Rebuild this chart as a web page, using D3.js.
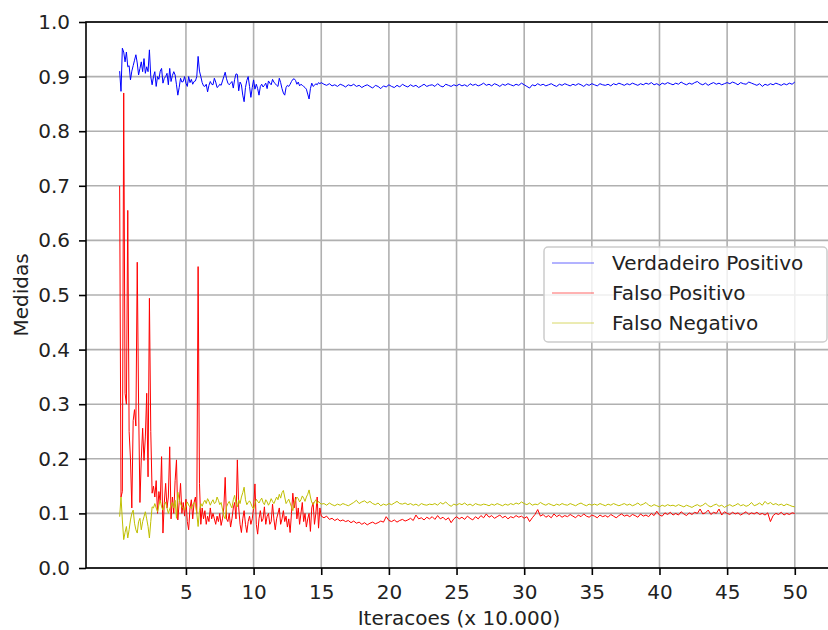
<!DOCTYPE html>
<head>
<meta charset="utf-8">
<title>Medidas por iteracao</title>
<style>
  body { margin: 0; background: #fff; }
  text { font-family: "DejaVu Sans", sans-serif; fill: #222; }
</style>
</head>
<body>
<script src="https://d3js.org/d3.v7.min.js"></script>
<script>
// iteracoes (x 10.000): a cada 0.1 ate 15, depois a cada 0.2 ate 50
const iterEarly = d3.range(1, 151).map(i => i / 10);
const iterLate = d3.range(76, 251).map(i => i / 5);
const iteracoes = iterEarly.concat(iterLate);

const xTicks = [5, 10, 15, 20, 25, 30, 35, 40, 45, 50];
const yTicks = [0, 0.1, 0.2, 0.3, 0.4, 0.5, 0.6, 0.7, 0.8, 0.9, 1.0];

const seriesNames = ["Verdadeiro Positivo", "Falso Positivo", "Falso Negativo"];
const seriesColors = ["#0000ff", "#ff0000", "#bfbf00"];

const verdadeiroPositivo = [
  0.91, 0.873, 0.952, 0.945, 0.927, 0.945, 0.918, 0.92, 0.894, 0.91,
  0.92, 0.93, 0.94, 0.925, 0.903, 0.915, 0.927, 0.909, 0.933, 0.906,
  0.918, 0.909, 0.949, 0.9, 0.885, 0.9, 0.909, 0.882, 0.9, 0.895,
  0.91, 0.915, 0.888, 0.897, 0.9, 0.906, 0.885, 0.915, 0.891, 0.902,
  0.909, 0.903, 0.885, 0.866, 0.88, 0.897, 0.89, 0.891, 0.9, 0.888,
  0.882, 0.9, 0.889, 0.895, 0.886, 0.891, 0.892, 0.9, 0.937, 0.91,
  0.9, 0.889, 0.883, 0.882, 0.886, 0.872, 0.884, 0.891, 0.886, 0.885,
  0.897, 0.89, 0.88, 0.882, 0.886, 0.884, 0.892, 0.9, 0.908, 0.896,
  0.888, 0.885, 0.888, 0.891, 0.879, 0.895, 0.905, 0.904, 0.874, 0.89,
  0.885, 0.866, 0.854, 0.88, 0.893, 0.9, 0.882, 0.862, 0.88, 0.894,
  0.877, 0.886, 0.878, 0.866, 0.882, 0.886, 0.881, 0.884, 0.888, 0.878,
  0.892, 0.888, 0.885, 0.895, 0.89, 0.887, 0.884, 0.882, 0.897, 0.889,
  0.878, 0.87, 0.866, 0.88, 0.884, 0.882, 0.886, 0.891, 0.895, 0.896,
  0.893, 0.886, 0.89, 0.883, 0.886, 0.884, 0.882, 0.88, 0.877, 0.868,
  0.859, 0.878, 0.888, 0.882, 0.884, 0.887, 0.885, 0.889, 0.887, 0.889,
  // 15.2 .. 50
  0.886, 0.884, 0.887, 0.883, 0.885, 0.882, 0.886, 0.884, 0.881, 0.885,
  0.883, 0.886, 0.882, 0.884, 0.88, 0.883, 0.885, 0.882, 0.879, 0.884,
  0.882, 0.878, 0.883, 0.881, 0.885, 0.882, 0.88, 0.884, 0.881, 0.886,
  0.883, 0.881, 0.885, 0.882, 0.884, 0.88, 0.883, 0.886, 0.882, 0.884,
  0.885, 0.882, 0.887, 0.883, 0.881, 0.886, 0.884, 0.882, 0.885, 0.883,
  0.886, 0.883, 0.885, 0.882, 0.887, 0.884, 0.886, 0.883, 0.885, 0.888,
  0.884, 0.886, 0.883, 0.887, 0.885, 0.882, 0.886, 0.884, 0.887, 0.885,
  0.883, 0.886, 0.884, 0.888, 0.885, 0.882, 0.879, 0.885, 0.883, 0.887,
  0.884, 0.886, 0.883, 0.885, 0.887, 0.884, 0.882, 0.886, 0.884, 0.887,
  0.885, 0.883, 0.886, 0.884, 0.887, 0.885, 0.882, 0.886, 0.884, 0.887,
  0.885, 0.883, 0.887, 0.885, 0.884, 0.886, 0.883, 0.887, 0.885, 0.888,
  0.886, 0.884, 0.887, 0.885, 0.888, 0.886, 0.884, 0.887, 0.885, 0.888,
  0.886, 0.889, 0.885, 0.887, 0.884, 0.888, 0.886, 0.889, 0.887, 0.885,
  0.888, 0.886, 0.89, 0.887, 0.885, 0.888, 0.886, 0.889, 0.891, 0.887,
  0.885, 0.888, 0.884, 0.887, 0.889, 0.886, 0.888, 0.885, 0.887, 0.889,
  0.887, 0.89, 0.888, 0.885, 0.889, 0.887, 0.886, 0.89, 0.888, 0.886,
  0.884, 0.887, 0.882, 0.886, 0.884, 0.887, 0.885, 0.888, 0.886, 0.884,
  0.887, 0.885, 0.888, 0.886, 0.89
];

const falsoPositivo = [
  0.70, 0.13, 0.14, 0.87, 0.32, 0.30, 0.655, 0.25, 0.20, 0.11,
  0.27, 0.29, 0.26, 0.56, 0.30, 0.12, 0.20, 0.256, 0.197, 0.24,
  0.32, 0.167, 0.494, 0.25, 0.137, 0.15, 0.13, 0.16, 0.10, 0.14,
  0.12, 0.204, 0.064, 0.12, 0.155, 0.11, 0.13, 0.222, 0.09, 0.13,
  0.10, 0.16, 0.198, 0.088, 0.12, 0.155, 0.10, 0.12, 0.095, 0.126,
  0.085, 0.07, 0.11, 0.125, 0.09, 0.12, 0.13, 0.10, 0.552, 0.155,
  0.08, 0.11, 0.09, 0.105, 0.08, 0.095, 0.085, 0.11, 0.09, 0.10,
  0.09, 0.08, 0.095, 0.085, 0.10, 0.078, 0.09, 0.11, 0.166, 0.09,
  0.085, 0.10, 0.075, 0.09, 0.11, 0.12, 0.09, 0.198, 0.11, 0.08,
  0.065, 0.09, 0.105, 0.08, 0.065, 0.085, 0.095, 0.08, 0.09, 0.11,
  0.154, 0.08, 0.062, 0.09, 0.105, 0.085, 0.09, 0.112, 0.08, 0.095,
  0.10, 0.08, 0.085, 0.117, 0.09, 0.07, 0.09, 0.10, 0.11, 0.08,
  0.09, 0.105, 0.085, 0.095, 0.075, 0.09, 0.065, 0.10, 0.137, 0.11,
  0.13, 0.09, 0.11, 0.08, 0.10, 0.12, 0.085, 0.10, 0.075, 0.09,
  0.10, 0.067, 0.11, 0.12, 0.08, 0.10, 0.13, 0.073, 0.11, 0.095,
  // 15.2 .. 50
  0.092, 0.095, 0.089, 0.091, 0.087, 0.09, 0.086, 0.088, 0.085, 0.087,
  0.083, 0.086, 0.082, 0.084, 0.08, 0.083, 0.079, 0.082, 0.084, 0.081,
  0.083, 0.086, 0.084, 0.094, 0.087, 0.085, 0.088, 0.084, 0.087, 0.089,
  0.086, 0.088, 0.091, 0.087, 0.097, 0.09, 0.092, 0.088, 0.093, 0.09,
  0.094, 0.089, 0.096, 0.09, 0.093, 0.088, 0.092, 0.083, 0.09, 0.094,
  0.09, 0.093, 0.089, 0.095, 0.091, 0.088, 0.094, 0.09, 0.096, 0.092,
  0.099, 0.093, 0.096, 0.091, 0.094, 0.097, 0.092, 0.095, 0.09, 0.094,
  0.092, 0.096, 0.093, 0.095, 0.091, 0.094, 0.085, 0.092, 0.098, 0.107,
  0.095, 0.098, 0.093, 0.096, 0.092, 0.099, 0.094, 0.097, 0.093, 0.096,
  0.094, 0.098, 0.095, 0.092, 0.097, 0.094, 0.099, 0.095, 0.093, 0.097,
  0.095, 0.092, 0.097, 0.094, 0.096, 0.093, 0.098, 0.095, 0.092, 0.096,
  0.099, 0.095, 0.097, 0.094, 0.098, 0.096, 0.093, 0.099, 0.095, 0.097,
  0.094, 0.1, 0.096, 0.104, 0.097, 0.095, 0.101, 0.098, 0.102, 0.097,
  0.1, 0.097, 0.103, 0.099, 0.096, 0.101, 0.098, 0.102, 0.1, 0.108,
  0.099, 0.101, 0.106, 0.098, 0.102, 0.1, 0.108, 0.097, 0.103, 0.1,
  0.098, 0.102, 0.099, 0.101, 0.097, 0.1, 0.103, 0.098, 0.101, 0.099,
  0.102, 0.098, 0.1, 0.097, 0.101, 0.085, 0.096, 0.1, 0.098, 0.102,
  0.097, 0.1, 0.098, 0.101, 0.1
];

const falsoNegativo = [
  0.094, 0.13, 0.088, 0.052, 0.065, 0.076, 0.055, 0.07, 0.088, 0.1,
  0.106, 0.082, 0.07, 0.064, 0.085, 0.091, 0.07, 0.085, 0.094, 0.103,
  0.09, 0.076, 0.055, 0.085, 0.112, 0.11, 0.118, 0.11, 0.103, 0.115,
  0.124, 0.112, 0.106, 0.115, 0.121, 0.11, 0.1, 0.108, 0.115, 0.12,
  0.11, 0.124, 0.091, 0.139, 0.125, 0.118, 0.112, 0.109, 0.106, 0.114,
  0.121, 0.115, 0.112, 0.109, 0.116, 0.12, 0.118, 0.1, 0.076, 0.105,
  0.118, 0.113, 0.12, 0.124, 0.118, 0.127, 0.122, 0.115, 0.121, 0.125,
  0.118, 0.12, 0.13, 0.124, 0.116, 0.12, 0.108, 0.095, 0.09, 0.112,
  0.118, 0.122, 0.115, 0.11, 0.125, 0.133, 0.118, 0.112, 0.125, 0.118,
  0.13, 0.138, 0.148, 0.125, 0.116, 0.12, 0.123, 0.118, 0.112, 0.108,
  0.118, 0.126, 0.122, 0.119, 0.124, 0.128, 0.12, 0.116, 0.125, 0.121,
  0.115, 0.12, 0.127, 0.122, 0.118, 0.124, 0.13, 0.125, 0.135, 0.128,
  0.138, 0.142, 0.13, 0.118, 0.122, 0.126, 0.119, 0.112, 0.105, 0.118,
  0.124, 0.13, 0.127, 0.121, 0.125, 0.132, 0.128, 0.122, 0.13, 0.135,
  0.143, 0.13, 0.12, 0.116, 0.121, 0.125, 0.118, 0.122, 0.119, 0.117,
  // 15.2 .. 50
  0.118, 0.115, 0.119, 0.116, 0.114, 0.117, 0.115, 0.118, 0.116, 0.114,
  0.117, 0.12, 0.124, 0.118, 0.121, 0.123, 0.119, 0.122, 0.118, 0.116,
  0.119, 0.114, 0.117, 0.115, 0.118, 0.116, 0.119, 0.122, 0.118, 0.117,
  0.119, 0.116, 0.118, 0.115, 0.117, 0.114, 0.118, 0.116, 0.115, 0.117,
  0.116, 0.118, 0.115, 0.12, 0.117, 0.121, 0.116, 0.113, 0.117, 0.115,
  0.118, 0.116, 0.119, 0.115, 0.117, 0.114, 0.118, 0.116, 0.115, 0.117,
  0.116, 0.114, 0.117, 0.115, 0.118, 0.116, 0.114, 0.117, 0.115, 0.118,
  0.116, 0.119, 0.117, 0.121, 0.118, 0.116, 0.119, 0.115, 0.117, 0.116,
  0.12, 0.117, 0.115, 0.118, 0.116, 0.114, 0.117, 0.115, 0.118, 0.116,
  0.115, 0.118, 0.116, 0.114, 0.117, 0.119, 0.116, 0.114, 0.117, 0.115,
  0.117, 0.115, 0.118, 0.116, 0.114, 0.117, 0.115, 0.118, 0.116, 0.114,
  0.116, 0.118, 0.115, 0.117, 0.114, 0.116, 0.119, 0.115, 0.117, 0.12,
  0.115, 0.113, 0.116, 0.114, 0.112, 0.115, 0.113, 0.116, 0.114, 0.115,
  0.113, 0.116, 0.114, 0.112, 0.115, 0.113, 0.111, 0.114, 0.116, 0.113,
  0.115, 0.119, 0.114, 0.112, 0.115, 0.117, 0.113, 0.115, 0.111, 0.114,
  0.116, 0.113, 0.115, 0.118, 0.114, 0.116, 0.113, 0.115, 0.12, 0.114,
  0.116, 0.119, 0.115, 0.122, 0.117, 0.12, 0.116, 0.118, 0.115, 0.117,
  0.114, 0.117, 0.115, 0.113, 0.112
];

const allSeries = [verdadeiroPositivo, falsoPositivo, falsoNegativo];

let width = 828;
let height = 630;
let plotLeft = 86, plotRight = 837, plotTop = 22, plotBottom = 568;

let svg = d3.select("body").append("svg")
  .attr("width", width)
  .attr("height", height);

let x = d3.scaleLinear()
  .domain([-2.387, 53.12])
  .range([plotLeft, plotRight]);

let y = d3.scaleLinear()
  .domain([0, 1])
  .range([plotBottom, plotTop]);

svg.append("clipPath").attr("id", "plot")
  .append("rect")
  .attr("x", plotLeft).attr("y", plotTop)
  .attr("width", plotRight - plotLeft).attr("height", plotBottom - plotTop);

// grid
svg.append("g").selectAll("line")
  .data(xTicks)
  .join("line")
  .attr("x1", d => x(d)).attr("x2", d => x(d))
  .attr("y1", plotTop).attr("y2", plotBottom)
  .attr("stroke", "#b0b0b0")
  .attr("stroke-width", 1.6);

svg.append("g").selectAll("line")
  .data(yTicks)
  .join("line")
  .attr("x1", plotLeft).attr("x2", plotRight)
  .attr("y1", d => y(d)).attr("y2", d => y(d))
  .attr("stroke", "#b0b0b0")
  .attr("stroke-width", 1.6);

// linhas
let line = d3.line()
  .x((d, i) => x(iteracoes[i]))
  .y(d => y(d));

svg.append("g")
  .attr("clip-path", "url(#plot)")
  .selectAll("path")
  .data(allSeries)
  .join("path")
  .attr("d", d => line(d))
  .attr("fill", "none")
  .attr("stroke", (d, i) => seriesColors[i])
  .attr("stroke-width", 1)
  .attr("stroke-linejoin", "round");

// eixos
let xAxis = svg.append("g")
  .attr("transform", `translate(0,${plotBottom})`)
  .call(d3.axisBottom(x).tickValues(xTicks).tickSize(7).tickPadding(10));

let yAxis = svg.append("g")
  .attr("transform", `translate(${plotLeft},0)`)
  .call(d3.axisLeft(y).tickValues(yTicks).tickFormat(d3.format(".1f")).tickSize(7).tickPadding(9));

[xAxis, yAxis].forEach(a => {
  a.select(".domain").remove();
  a.selectAll(".tick line").attr("stroke", "#000").attr("stroke-width", 1.6);
  a.selectAll(".tick text")
    .style("font-size", "20px")
    .style("font-family", "DejaVu Sans")
    .attr("fill", "#222");
});

// spines
svg.append("rect")
  .attr("x", plotLeft).attr("y", plotTop)
  .attr("width", plotRight - plotLeft).attr("height", plotBottom - plotTop)
  .attr("fill", "none")
  .attr("stroke", "#000")
  .attr("stroke-width", 1.6);

// labels
svg.append("text")
  .attr("x", 459)
  .attr("y", 625)
  .attr("text-anchor", "middle")
  .style("font-size", "20px")
  .text("Iteracoes (x 10.000)");

svg.append("text")
  .attr("transform", "translate(21,295) rotate(-90)")
  .attr("text-anchor", "middle")
  .attr("dy", "0.35em")
  .style("font-size", "20px")
  .text("Medidas");

// legenda
let legend = svg.append("g");
legend.append("rect")
  .attr("x", 544).attr("y", 247)
  .attr("width", 283).attr("height", 95)
  .attr("rx", 4)
  .attr("fill", "rgba(255,255,255,0.8)")
  .attr("stroke", "#cccccc")
  .attr("stroke-width", 1.5);

let rows = legend.selectAll(".row")
  .data(seriesNames)
  .join("g")
  .attr("class", "row")
  .attr("transform", (d, i) => `translate(0,${263 + i * 30})`);

rows.append("line")
  .attr("x1", 552).attr("x2", 594)
  .attr("stroke", (d, i) => seriesColors[i])
  .attr("stroke-width", 1)
  .attr("stroke-opacity", 0.6);

rows.append("text")
  .attr("x", 612)
  .attr("dy", "0.35em")
  .style("font-size", "20px")
  .text(d => d);
</script>
</body>
